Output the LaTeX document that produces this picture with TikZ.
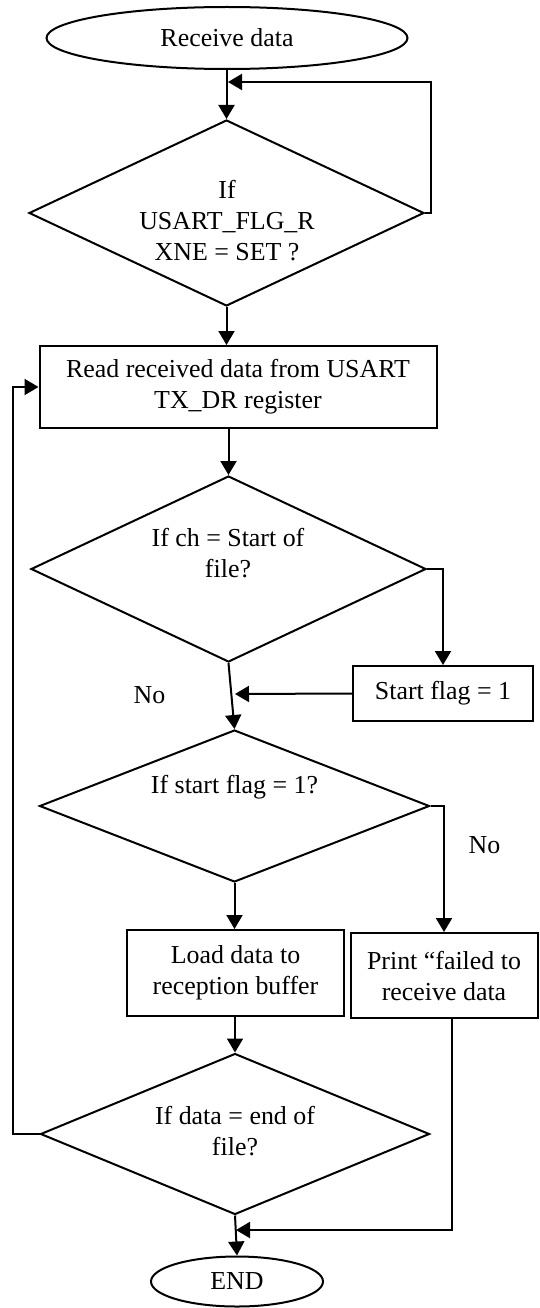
\documentclass[tikz,border=0pt]{standalone}
\usepackage{fontspec}
\setmainfont{Liberation Serif}
\usetikzlibrary{shapes.geometric,arrows.meta}
\tikzset{
  x=1pt, y=-1pt,
  every path/.style={line width=2pt},
  lbl/.style={font=\fontsize{25.9}{31}\selectfont, align=center, inner sep=0pt},
  oval/.style={draw, ellipse, inner sep=0pt, lbl},
  proc/.style={draw, rectangle, inner sep=0pt, lbl},
  cond/.style={draw, diamond, inner sep=0pt},
  arr/.style={-{Triangle[length=14pt,width=16pt]}},
}
\begin{document}
\begin{tikzpicture}
\useasboundingbox (0,0) rectangle (539,1308);

% terminals
\node[oval, minimum width=361pt, minimum height=62pt] (start) at (227,38) {Receive data};
\node[oval, minimum width=172pt, minimum height=50pt] (end) at (237,1281.5) {END};

% decisions (shape and text set separately)
\node[cond, minimum width=395pt, minimum height=186pt] (d1) at (226.5,213) {};
\node[lbl] (d1t) at (227,221) {If\\USART\_FLG\_R\\XNE = SET ?};
\node[cond, minimum width=395pt, minimum height=186pt] (d2) at (228.5,569) {};
\node[lbl] (d2t) at (228,553) {If ch = Start of\\file?};
\node[cond, minimum width=390pt, minimum height=152pt] (d3) at (234.5,806) {};
\node[lbl] (d3t) at (234.5,787) {If start flag = 1?};
\node[cond, minimum width=389pt, minimum height=161pt] (d4) at (235,1134) {};
\node[lbl] (d4t) at (235,1131) {If data = end of\\file?};

% processes
\node[proc, minimum width=397pt, minimum height=82pt] (read) at (238,387) {Read received data from USART\\TX\_DR register};
\node[proc, minimum width=180pt, minimum height=55pt] (sf) at (443,693.5) {Start flag = 1};
\node[proc, minimum width=217pt, minimum height=86pt] (load) at (235.5,973) {Load data to\\reception buffer};
\node[proc, minimum width=187pt, minimum height=85pt] (pr) at (444,975.5) {Print “failed to\\receive data};

% branch labels
\node[lbl] (no1) at (149.5,695) {No};
\node[lbl] (no2) at (484.5,845) {No};

% routing points
\coordinate (j1) at (228,82);
\coordinate (c1) at (431,82);
\coordinate (j2) at (235,694);
\coordinate (c2) at (12.7,387);
\coordinate (c3) at (452,1230);
\coordinate (j3) at (236,1230);

% connectors
\draw[arr] (start.south -| d1.north) -- (d1.north);
\draw[arr] (d1.east) -| (c1) -- (j1);
\draw[arr] (d1.south) -- (d1.south |- read.north);
\draw[arr] (d2.north |- read.south) -- (d2.north);
\draw[arr] (d2.east) -| (sf.north);
\draw[arr] (sf.west) -- (j2);
\draw[arr] (d2.south) -- (d3.north);
\draw[arr] (d3.east) -| (pr.north);
\draw[arr] (d3.south) -- (d3.south |- load.north);
\draw[arr] (d4.north |- load.south) -- (d4.north);
\draw[arr] (d4.west) -| (c2) -- (read.west);
\draw[arr] (pr.south -| c3) -- (c3) -- (j3);
\draw[arr] (d4.south) -- (end.north);
\end{tikzpicture}
\end{document}
